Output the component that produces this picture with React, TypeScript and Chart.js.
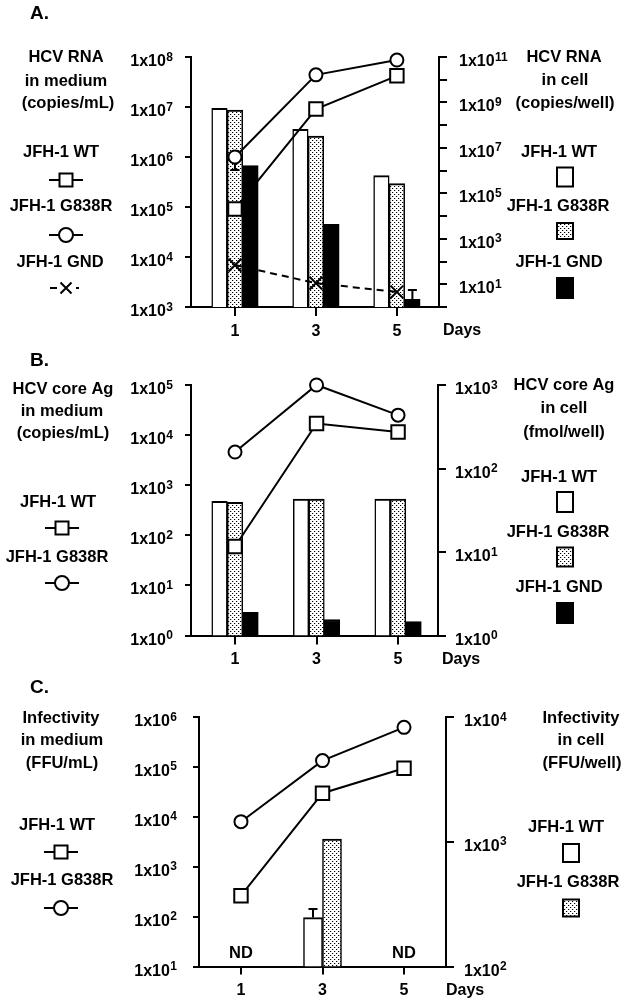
import React, { useEffect, useRef } from 'react';
import { Chart, registerables } from 'chart.js';

Chart.register(...registerables);

const FONT = '"Liberation Sans", Arial, Helvetica, sans-serif';

// ---- shared ----
const days = [1, 3, 5];
const dayLabels = ['1', '3', '5'];

// ---- Panel A: HCV RNA ----
const aWtMedium = [9.1e4, 9.1e6, 4.2e7];
const aG838RMedium = [1.0e6, 4.4e7, 8.7e7];
const aG838RMediumErrLow = [5.5e5, null, null];
const aGndMedium = [6.9e3, 3.0e3, 2.0e3];
const aWtCell = [5.5e8, 6.6e7, 6.0e5];
const aG838RCell = [4.6e8, 3.3e7, 2.7e5];
const aGndCell = [1.65e6, 4.3e3, 2.2];
const aGndCellErrHigh = [null, null, 5.6];
const aLeftTickExps = [3, 4, 5, 6, 7, 8];
const aRightTickExps = [0, 1, 2, 3, 4, 5, 6, 7, 8, 9, 10, 11];
const aRightLabelExps = [1, 3, 5, 7, 9, 11];

// ---- Panel B: HCV core Ag ----
const bWtMedium = [60, 1.7e4, 1.15e4];
const bG838RMedium = [4.6e3, 1.0e5, 2.5e4];
const bWtCell = [40.6, 43, 43];
const bG838RCell = [39.5, 43, 43];
const bGndCell = [1.9, 1.56, 1.47];
const bLeftTickExps = [0, 1, 2, 3, 4, 5];
const bRightTickExps = [0, 1, 2, 3];

// ---- Panel C: Infectivity ----
const cWtMedium = [263, 2.97e4, 9.4e4];
const cG838RMedium = [8.0e3, 1.34e5, 6.2e5];
const cWtCell = [null, 247, null];
const cWtCellErrHigh = [null, 290, null];
const cG838RCell = [null, 1050, null];
const cNdLabels = ['ND', '', 'ND'];
const cLeftTickExps = [1, 2, 3, 4, 5, 6];
const cRightTickExps = [2, 3, 4];

const pts = (vals: (number | null)[]) => days.map((d, i) => ({ x: d, y: vals[i] }));

function lineDs(vals: number[], style: string, extra: any = {}) {
  return {
    type: 'line',
    data: pts(vals),
    yAxisID: 'yL',
    xAxisID: 'x',
    borderColor: '#000',
    borderWidth: 2,
    pointStyle: style,
    pointRadius: style === 'rect' ? 9.5 : style === 'circle' ? 6.5 : 6,
    pointBackgroundColor: '#fff',
    pointBorderColor: '#000',
    pointBorderWidth: 2,
    fill: false,
    tension: 0,
    order: 1,
    clip: false,
    ...extra,
  };
}

function barDs(vals: (number | null)[], fill: any, thickness: number, extra: any = {}) {
  return {
    type: 'bar',
    data: pts(vals),
    yAxisID: 'yR',
    xAxisID: 'x',
    backgroundColor: fill,
    borderColor: '#000',
    borderWidth: { top: 2, left: 1.5, right: 1.5, bottom: 0 },
    borderSkipped: 'start',
    barThickness: thickness,
    order: 2,
    ...extra,
  };
}

function makeDots(): CanvasPattern | string {
  const c = document.createElement('canvas');
  c.width = 4;
  c.height = 4;
  const g = c.getContext('2d');
  if (!g) return '#ccc';
  g.fillStyle = '#fff';
  g.fillRect(0, 0, 4, 4);
  g.fillStyle = '#000';
  g.fillRect(0, 0, 1, 1);
  g.fillRect(2, 2, 1, 1);
  g.fillStyle = 'rgba(0,0,0,0.2)';
  g.fillRect(1, 0, 1, 1);
  g.fillRect(3, 2, 1, 1);
  return g.createPattern(c, 'repeat') || '#ccc';
}

function drawPow(ctx: CanvasRenderingContext2D, x: number, y: number, exp: number, align: string) {
  const base = '1x10';
  const sup = String(exp);
  ctx.font = `bold 16px ${FONT}`;
  const wb = ctx.measureText(base).width;
  ctx.font = `bold 12px ${FONT}`;
  const ws = ctx.measureText(sup).width;
  const x0 = align === 'right' ? x - wb - ws - 0.5 : x;
  ctx.textAlign = 'left';
  ctx.textBaseline = 'alphabetic';
  ctx.fillStyle = '#000';
  ctx.font = `bold 16px ${FONT}`;
  ctx.fillText(base, x0, y + 9);
  ctx.font = `bold 12px ${FONT}`;
  ctx.fillText(sup, x0 + wb + 0.5, y + 3.5);
}

function drawErr(chart: any, meta: any, vals: (number | null)[], axisId: string) {
  const ctx = chart.ctx as CanvasRenderingContext2D;
  const sc = chart.scales[axisId];
  ctx.save();
  ctx.strokeStyle = '#000';
  ctx.lineWidth = 2;
  meta.data.forEach((el: any, i: number) => {
    const v = vals[i];
    if (v == null) return;
    const x = el.x;
    const y0 = el.y;
    const y1 = sc.getPixelForValue(v);
    ctx.beginPath();
    ctx.moveTo(x, y0);
    ctx.lineTo(x, y1);
    ctx.moveTo(x - 4.5, y1);
    ctx.lineTo(x + 4.5, y1);
    ctx.stroke();
  });
  ctx.restore();
}

function makePlugin(p: any) {
  return {
    id: 'decor',
    beforeDatasetDraw(chart: any, args: any) {
      const ds = chart.data.datasets[args.index];
      if (ds.errLow) drawErr(chart, args.meta, ds.errLow, ds.yAxisID);
    },
    afterDatasetDraw(chart: any, args: any) {
      const ds = chart.data.datasets[args.index];
      if (ds.errHigh) drawErr(chart, args.meta, ds.errHigh, ds.yAxisID);
    },
    afterDraw(chart: any) {
      const ctx = chart.ctx as CanvasRenderingContext2D;
      const T = p.top;
      ctx.save();
      ctx.fillStyle = '#000';
      ctx.strokeStyle = '#000';
      ctx.font = `bold 19px ${FONT}`;
      ctx.textAlign = 'left';
      ctx.textBaseline = 'middle';
      ctx.fillText(p.title[0], p.title[1], p.title[2] - T);
      ctx.font = `bold 16px ${FONT}`;
      ctx.fillText('Days', p.days[0], p.days[1] - T);
      ctx.font = `bold 16.5px ${FONT}`;
      ctx.textAlign = 'center';
      p.texts.forEach((t: any) => ctx.fillText(t[0], t[1], t[2] - T));
      ctx.lineWidth = 2;
      p.symbols.forEach((s: any) => {
        const [kind, cx, cyAbs, w, h] = s;
        const cy = cyAbs - T;
        if (kind === 'lineSquare' || kind === 'lineCircle') {
          ctx.beginPath();
          ctx.moveTo(cx - 17, cy);
          ctx.lineTo(cx + 17, cy);
          ctx.stroke();
          ctx.fillStyle = '#fff';
          ctx.beginPath();
          if (kind === 'lineSquare') ctx.rect(cx - 6.5, cy - 6.5, 13, 13);
          else ctx.arc(cx, cy, 7, 0, Math.PI * 2);
          ctx.fill();
          ctx.stroke();
          ctx.fillStyle = '#000';
        } else if (kind === 'lineCross') {
          ctx.beginPath();
          ctx.moveTo(cx - 16, cy);
          ctx.lineTo(cx - 9, cy);
          ctx.moveTo(cx - 5.5, cy - 5.5);
          ctx.lineTo(cx + 5.5, cy + 5.5);
          ctx.moveTo(cx + 5.5, cy - 5.5);
          ctx.lineTo(cx - 5.5, cy + 5.5);
          ctx.moveTo(cx + 10, cy);
          ctx.lineTo(cx + 13, cy);
          ctx.stroke();
        } else {
          ctx.fillStyle = kind === 'boxBlack' ? '#000' : kind === 'boxDots' ? p.dots : '#fff';
          ctx.beginPath();
          ctx.rect(cx - w / 2, cy - h / 2, w, h);
          ctx.fill();
          ctx.stroke();
          ctx.fillStyle = '#000';
        }
      });
      const yl = chart.scales.yL;
      yl.ticks.forEach((tk: any) => {
        const e = Math.round(Math.log10(tk.value));
        if (p.yL.labelExps.includes(e)) drawPow(ctx, p.yL.labelX, yl.getPixelForValue(tk.value), e, 'right');
      });
      const yr = chart.scales.yR;
      yr.ticks.forEach((tk: any) => {
        const e = Math.round(Math.log10(tk.value));
        if (p.yR.labelExps.includes(e)) drawPow(ctx, p.yR.labelX, yr.getPixelForValue(tk.value), e, 'left');
      });
      if (p.nd) {
        ctx.font = `bold 16.5px ${FONT}`;
        ctx.textAlign = 'center';
        ctx.textBaseline = 'middle';
        p.nd.labels.forEach((lab: string, i: number) => {
          if (!lab) return;
          ctx.fillText(lab, chart.scales.x.getPixelForValue(days[i]), p.nd.y - T);
        });
      }
      ctx.restore();
    },
  };
}

function yAxis(position: string, cfg: any) {
  return {
    type: 'logarithmic',
    position,
    min: cfg.min,
    max: cfg.max,
    afterBuildTicks: (s: any) => {
      s.ticks = cfg.tickExps.map((e: number) => ({ value: Math.pow(10, e) }));
    },
    ticks: { display: false },
    grid: { drawOnChartArea: false, drawTicks: true, tickLength: cfg.tickLen, color: '#000', lineWidth: 2 },
    border: { display: true, color: '#000', width: 2 },
  };
}

function buildConfig(p: any) {
  return {
    type: 'bar',
    data: { datasets: p.datasets },
    options: {
      responsive: false,
      animation: false,
      events: [],
      layout: { padding: p.padding },
      plugins: { legend: { display: false }, tooltip: { enabled: false }, title: { display: false } },
      scales: {
        x: {
          type: 'linear',
          position: 'bottom',
          offset: false,
          min: p.xMin,
          max: p.xMax,
          afterBuildTicks: (s: any) => {
            s.ticks = days.map((d) => ({ value: d }));
          },
          ticks: {
            callback: (v: any) => {
              const i = days.indexOf(Number(v));
              return i >= 0 ? dayLabels[i] : '';
            },
            autoSkip: false,
            maxRotation: 0,
            padding: p.xPad,
            color: '#000',
            font: { family: FONT, size: 16, weight: 'bold' },
          },
          grid: { offset: false, drawOnChartArea: false, drawTicks: true, tickLength: p.xTickLen, color: '#000', lineWidth: 2 },
          border: { display: true, color: '#000', width: 2 },
        },
        yL: yAxis('left', p.yL),
        yR: yAxis('right', p.yR),
      },
    },
    plugins: [makePlugin(p)],
  };
}

const BANDS = [
  { top: 0, height: 352 },
  { top: 345, height: 335 },
  { top: 665, height: 343 },
];

function buildPanels(dots: any) {
  const A = {
    top: BANDS[0].top,
    dots,
    padding: { left: 185, right: 179, top: 57, bottom: 4.8 },
    xMin: -0.086,
    xMax: 6.04,
    xTickLen: 9,
    xPad: 6,
    yL: { min: 1e3, max: 1e8, tickExps: aLeftTickExps, labelExps: aLeftTickExps, tickLen: 6, labelX: 173 },
    yR: { min: 1, max: 1e11, tickExps: aRightTickExps, labelExps: aRightLabelExps, tickLen: 8, labelX: 459 },
    datasets: [
      barDs(aWtCell, '#fff', 15.5),
      barDs(aG838RCell, dots, 15.5),
      barDs(aGndCell, '#000', 15.5, { errHigh: aGndCellErrHigh }),
      lineDs(aWtMedium, 'rect'),
      lineDs(aG838RMedium, 'circle', { errLow: aG838RMediumErrLow }),
      lineDs(aGndMedium, 'crossRot', { borderDash: [7, 5], pointRadius: 9 }),
    ],
    title: ['A.', 30, 14],
    days: [443, 331],
    texts: [
      ['HCV RNA', 66, 57],
      ['in medium', 66, 81],
      ['(copies/mL)', 68, 103],
      ['JFH-1 WT', 61, 152],
      ['JFH-1 G838R', 61, 206],
      ['JFH-1 GND', 60, 262],
      ['HCV RNA', 564, 57],
      ['in cell', 565, 80],
      ['(copies/well)', 565, 103],
      ['JFH-1 WT', 559, 152],
      ['JFH-1 G838R', 558, 206],
      ['JFH-1 GND', 559, 262],
    ],
    symbols: [
      ['lineSquare', 66, 180],
      ['lineCircle', 66, 235],
      ['lineCross', 66, 288],
      ['boxWhite', 565, 177, 16, 19],
      ['boxDots', 565, 231, 16, 16],
      ['boxBlack', 565, 288, 16, 20],
    ],
  };
  const B = {
    top: BANDS[1].top,
    dots,
    padding: { left: 185, right: 180, top: 40, bottom: 5.4 },
    xMin: -0.08,
    xMax: 5.98,
    xTickLen: 9,
    xPad: 5.4,
    yL: { min: 1, max: 1e5, tickExps: bLeftTickExps, labelExps: bLeftTickExps, tickLen: 6, labelX: 173 },
    yR: { min: 1, max: 1e3, tickExps: bRightTickExps, labelExps: bRightTickExps, tickLen: 8, labelX: 455 },
    datasets: [
      barDs(bWtCell, '#fff', 15.5),
      barDs(bG838RCell, dots, 15.5),
      barDs(bGndCell, '#000', 15.5),
      lineDs(bWtMedium, 'rect'),
      lineDs(bG838RMedium, 'circle'),
    ],
    title: ['B.', 30, 361],
    days: [442, 660],
    texts: [
      ['HCV core Ag', 63, 389],
      ['in medium', 62, 411],
      ['(copies/mL)', 63, 433],
      ['JFH-1 WT', 58, 502],
      ['JFH-1 G838R', 57, 557],
      ['HCV core Ag', 564, 385],
      ['in cell', 564, 408],
      ['(fmol/well)', 564, 432],
      ['JFH-1 WT', 559, 477],
      ['JFH-1 G838R', 558, 532],
      ['JFH-1 GND', 559, 587],
    ],
    symbols: [
      ['lineSquare', 62, 528],
      ['lineCircle', 62, 583],
      ['boxWhite', 565, 502, 16, 20],
      ['boxDots', 565, 557, 16, 19],
      ['boxBlack', 565, 613, 16, 20],
    ],
  };
  const C = {
    top: BANDS[2].top,
    dots,
    padding: { left: 193, right: 172, top: 52, bottom: 1.4 },
    xMin: -0.03,
    xMax: 6.03,
    xTickLen: 8,
    xPad: 6.4,
    yL: { min: 10, max: 1e6, tickExps: cLeftTickExps, labelExps: cLeftTickExps, tickLen: 6, labelX: 177 },
    yR: { min: 100, max: 1e4, tickExps: cRightTickExps, labelExps: cRightTickExps, tickLen: 8, labelX: 464 },
    datasets: [
      barDs(cWtCell, '#fff', 19, { errHigh: cWtCellErrHigh }),
      barDs(cG838RCell, dots, 19),
      lineDs(cWtMedium, 'rect'),
      lineDs(cG838RMedium, 'circle'),
    ],
    nd: { labels: cNdLabels, y: 953 },
    title: ['C.', 30, 688],
    days: [446, 991],
    texts: [
      ['Infectivity', 61, 718],
      ['in medium', 62, 740],
      ['(FFU/mL)', 62, 763],
      ['JFH-1 WT', 57, 825],
      ['JFH-1 G838R', 62, 880],
      ['Infectivity', 581, 718],
      ['in cell', 581, 740],
      ['(FFU/well)', 582, 763],
      ['JFH-1 WT', 566, 827],
      ['JFH-1 G838R', 568, 882],
    ],
    symbols: [
      ['lineSquare', 61, 852],
      ['lineCircle', 61, 908],
      ['boxWhite', 571, 853, 16, 18],
      ['boxDots', 571, 908, 16, 17],
    ],
  };
  return [A, B, C];
}

export default function App() {
  const refA = useRef<HTMLCanvasElement>(null);
  const refB = useRef<HTMLCanvasElement>(null);
  const refC = useRef<HTMLCanvasElement>(null);

  useEffect(() => {
    Chart.defaults.font.family = FONT;
    const canvases = [refA.current, refB.current, refC.current];
    const dots = makeDots();
    const panels = buildPanels(dots);
    const charts: Chart[] = [];
    panels.forEach((p, i) => {
      const cv = canvases[i];
      if (cv) charts.push(new Chart(cv, buildConfig(p) as any));
    });
    return () => charts.forEach((c) => c.destroy());
  }, []);

  const refs = [refA, refB, refC];
  return (
    <div style={{ position: 'absolute', left: 0, top: 0, width: 626, height: 1008, background: '#fff', overflow: 'hidden' }}>
      {BANDS.map((b, i) => (
        <canvas
          key={i}
          ref={refs[i]}
          width={626}
          height={b.height}
          style={{ position: 'absolute', left: 0, top: b.top, width: 626, height: b.height }}
        />
      ))}
    </div>
  );
}
